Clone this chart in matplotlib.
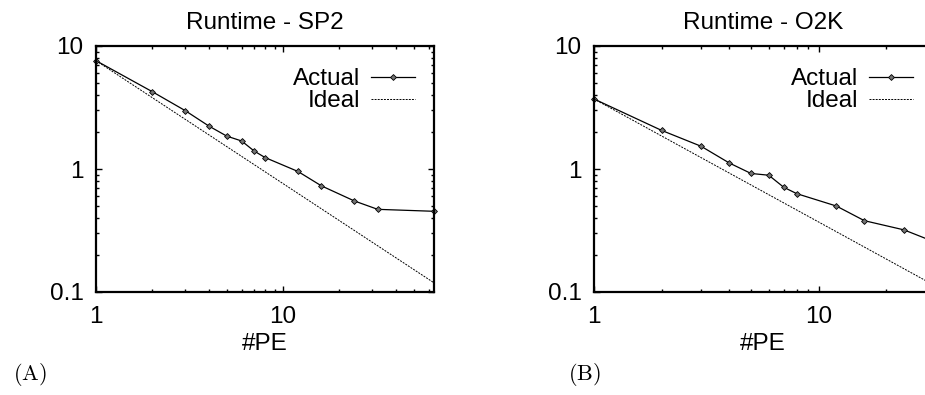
import matplotlib
matplotlib.use("Agg")
import matplotlib.pyplot as plt
from matplotlib.ticker import LogLocator, FixedLocator, NullFormatter

plt.rcParams["font.family"] = ["Liberation Sans", "DejaVu Sans"]
plt.rcParams["mathtext.fontset"] = "cm"

# data
pe_sp2 = [1, 2, 3, 4, 5, 6, 7, 8, 12, 16, 24, 32, 64]
actual_sp2 = [7.6, 4.25, 2.98, 2.24, 1.85, 1.69, 1.40, 1.24, 0.955, 0.73, 0.55, 0.47, 0.453]

pe_o2k = [1, 2, 3, 4, 5, 6, 7, 8, 12, 16, 24, 32]
actual_o2k = [3.71, 2.06, 1.53, 1.12, 0.92, 0.89, 0.71, 0.63, 0.50, 0.38, 0.32, 0.26]

titles = ["Runtime - SP2", "Runtime - O2K"]
panel_labels = ["(A)", "(B)"]
x_max = [64, 32]

fig = plt.figure(figsize=(9.25, 3.95), dpi=100)
W, H = 925.0, 395.0
# axes in pixels: left, top, width, height
boxes = [(96, 46, 338, 246), (594, 46, 338, 246)]
label_x = [13, 568]
FS = 17.5

def draw_panel(box, pe, actual, title, label, xmax, lx):
    l, t, w, h = box
    ax = fig.add_axes([l / W, 1 - (t + h) / H, w / W, h / H])
    ideal = [actual[0] / p for p in pe]
    ax.plot(pe, actual, "-", color="black", lw=0.9, marker="D", ms=3.0,
            mfc="0.45", mec="black", mew=0.6, label="Actual", clip_on=False)
    ax.plot(pe, ideal, color="black", lw=0.7, dashes=(2.0, 1.2), label="Ideal")
    ax.set_xscale("log")
    ax.set_yscale("log")
    ax.set_xlim(1, xmax)
    ax.set_ylim(0.1, 10)
    ax.xaxis.set_major_locator(FixedLocator([1, 10]))
    ax.yaxis.set_major_locator(FixedLocator([0.1, 1, 10]))
    ax.set_xticklabels(["1", "10"])
    ax.set_yticklabels(["0.1", "1", "10"])
    ax.xaxis.set_minor_locator(LogLocator(base=10, subs=range(2, 10)))
    ax.yaxis.set_minor_locator(LogLocator(base=10, subs=range(2, 10)))
    ax.xaxis.set_minor_formatter(NullFormatter())
    ax.yaxis.set_minor_formatter(NullFormatter())
    ax.tick_params(which="both", direction="in", top=True, right=True,
                   labelsize=FS, width=1.0)
    ax.tick_params(which="major", length=4)
    ax.tick_params(axis="x", which="major", pad=10)
    ax.tick_params(axis="y", which="major", pad=9)
    ax.tick_params(which="minor", length=2)
    for s in ax.spines.values():
        s.set_linewidth(1.6)
    ax.set_xlabel("#PE", fontsize=FS, labelpad=4)
    ax.set_title(title, fontsize=FS, pad=12)
    ax.legend(loc="upper right", bbox_to_anchor=(1 - 12 / w, 1 - 15 / h),
              frameon=False, markerfirst=False, fontsize=FS, handlelength=1.8,
              handletextpad=0.45, labelspacing=0.0, borderaxespad=0.0,
              borderpad=0.3)
    fig.text(lx / W, 1 - 375 / H, r"$\mathrm{" + label + "}$",
             fontsize=16, va="center", ha="left")
    return ax

for i in range(2):
    pe = [pe_sp2, pe_o2k][i]
    act = [actual_sp2, actual_o2k][i]
    draw_panel(boxes[i], pe, act, titles[i], panel_labels[i], x_max[i], label_x[i])

fig.savefig("out.png", dpi=100)
